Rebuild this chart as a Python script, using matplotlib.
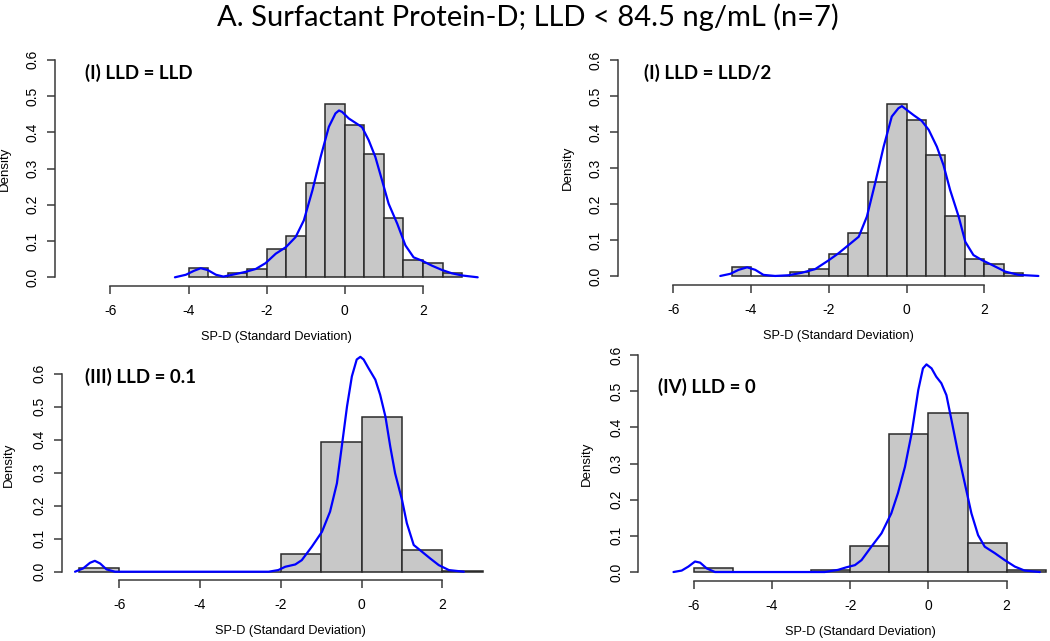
import matplotlib
matplotlib.use("Agg")
import matplotlib.pyplot as plt
import numpy as np

# ---------------- data ----------------
title = "A. Surfactant Protein-D; LLD < 84.5 ng/mL (n=7)"
panel_labels = ["(I) LLD = LLD", "(I) LLD = LLD/2", "(III) LLD = 0.1", "(IV) LLD = 0"]
xlabel = "SP-D (Standard Deviation)"
ylabel = "Density"
x_ticks = [-6, -4, -2, 0, 2]
y_ticks = [0.0, 0.1, 0.2, 0.3, 0.4, 0.5, 0.6]
y_tick_labels = ["0.0", "0.1", "0.2", "0.3", "0.4", "0.5", "0.6"]

# Panel I histogram (breaks -4..3 by 0.5)
p1_breaks = [-4.0, -3.5, -3.0, -2.5, -2.0, -1.5, -1.0, -0.5, 0.0, 0.5, 1.0, 1.5, 2.0, 2.5, 3.0]
p1_density = [0.027, 0.0, 0.012, 0.023, 0.077, 0.114, 0.259, 0.477, 0.419, 0.339, 0.163, 0.049, 0.039, 0.012]
p1_curve_x = [-4.35, -4.07, -3.86, -3.69, -3.51, -3.30, -3.11, -2.88, -2.54, -2.28, -2.03, -1.77, -1.51,
              -1.26, -1.05, -0.83, -0.62, -0.41, -0.24, -0.15, -0.07, 0.10, 0.27, 0.44, 0.61, 0.78, 0.95,
              1.12, 1.34, 1.55, 1.76, 1.97, 2.23, 2.49, 2.74, 3.00, 3.40]
p1_curve_y = [0.000, 0.007, 0.018, 0.025, 0.020, 0.007, 0.002, 0.007, 0.015, 0.023, 0.039, 0.065, 0.083,
              0.111, 0.157, 0.240, 0.332, 0.415, 0.452, 0.460, 0.456, 0.438, 0.426, 0.414, 0.378, 0.332, 0.268,
              0.203, 0.148, 0.088, 0.055, 0.046, 0.032, 0.020, 0.011, 0.005, 0.000]

# Panel I (LLD/2) histogram (breaks -4.5..3 by 0.5)
p2_breaks = [-4.5, -4.0, -3.5, -3.0, -2.5, -2.0, -1.5, -1.0, -0.5, 0.0, 0.5, 1.0, 1.5, 2.0, 2.5, 3.0]
p2_density = [0.026, 0.0, 0.0, 0.012, 0.019, 0.062, 0.119, 0.261, 0.479, 0.432, 0.337, 0.168, 0.046, 0.034, 0.007]
p2_curve_x = [-4.79, -4.53, -4.32, -4.10, -3.89, -3.68, -3.38, -3.03, -2.69, -2.35, -2.01, -1.75, -1.49,
              -1.23, -1.02, -0.81, -0.59, -0.38, -0.21, -0.12, 0.01, 0.18, 0.39, 0.57, 0.78, 0.95, 1.12,
              1.34, 1.51, 1.72, 1.94, 2.19, 2.54, 2.88, 3.39]
p2_curve_y = [0.000, 0.006, 0.017, 0.024, 0.017, 0.003, 0.000, 0.002, 0.009, 0.019, 0.043, 0.063, 0.086,
              0.109, 0.165, 0.257, 0.359, 0.443, 0.466, 0.472, 0.461, 0.447, 0.431, 0.406, 0.359, 0.308, 0.239,
              0.165, 0.095, 0.058, 0.044, 0.031, 0.012, 0.003, 0.000]

# Panel III histogram (breaks -7..3 by 1)
p3_breaks = [-7, -6, -5, -4, -3, -2, -1, 0, 1, 2, 3]
p3_density = [0.012, 0.0, 0.0, 0.0, 0.0, 0.055, 0.393, 0.468, 0.067, 0.002]
p3_curve_x = [-7.09, -6.89, -6.72, -6.60, -6.47, -6.31, -6.10, -3.96, -2.30, -2.06, -1.89, -1.64, -1.48,
              -1.23, -0.98, -0.78, -0.61, -0.49, -0.36, -0.24, -0.12, -0.03, 0.05, 0.17, 0.34, 0.46, 0.59,
              0.71, 0.83, 1.00, 1.12, 1.29, 1.49, 1.70, 1.91, 2.16, 2.53]
p3_curve_y = [0.000, 0.010, 0.027, 0.033, 0.025, 0.007, 0.000, 0.000, 0.000, 0.005, 0.015, 0.022, 0.035,
              0.076, 0.121, 0.182, 0.268, 0.379, 0.501, 0.592, 0.643, 0.651, 0.643, 0.617, 0.582, 0.536, 0.470,
              0.379, 0.298, 0.218, 0.147, 0.081, 0.061, 0.040, 0.020, 0.005, 0.000]

# Panel IV histogram (breaks -6..3 by 1)
p4_breaks = [-6, -5, -4, -3, -2, -1, 0, 1, 2, 3]
p4_density = [0.012, 0.0, 0.0, 0.006, 0.072, 0.382, 0.439, 0.081, 0.006]
p4_curve_x = [-6.52, -6.31, -6.14, -5.97, -5.84, -5.67, -5.46, -2.65, -2.31, -2.10, -1.88, -1.71, -1.46,
              -1.20, -0.95, -0.78, -0.60, -0.43, -0.26, -0.14, -0.05, 0.08, 0.20, 0.33, 0.46, 0.59, 0.76,
              0.93, 1.10, 1.27, 1.44, 1.70, 1.95, 2.21, 2.46, 2.85]
p4_curve_y = [0.000, 0.004, 0.015, 0.029, 0.026, 0.010, 0.000, 0.000, 0.006, 0.013, 0.019, 0.033, 0.070,
              0.107, 0.162, 0.218, 0.291, 0.383, 0.503, 0.563, 0.574, 0.563, 0.540, 0.522, 0.489, 0.420, 0.328,
              0.245, 0.162, 0.102, 0.070, 0.052, 0.033, 0.015, 0.004, 0.000]

panels = [
    (p1_breaks, p1_density, p1_curve_x, p1_curve_y, 0.6),
    (p2_breaks, p2_density, p2_curve_x, p2_curve_y, 0.6),
    (p3_breaks, p3_density, p3_curve_x, p3_curve_y, 0.65),
    (p4_breaks, p4_density, p4_curve_x, p4_curve_y, 0.6),
]

# ---------------- layout (pixels) ----------------
W, H = 1050, 641
fig = plt.figure(figsize=(W / 100, H / 100), dpi=100)
fig.patch.set_facecolor("white")

# left, top, right, bottom in pixels (plot region)
rects = [
    (55, 51, 498, 286),
    (618, 51.4, 1059, 284.6),
    (61.7, 348.6, 520, 580.3),
    (638.3, 346.3, 1081.7, 580.7),
]
label_pos = [(85, 73), (644, 73), (85, 377), (658, 387)]
ylabel_x = [5, 568, 9, 587]

xlim = (-7.42, 3.92)
axis_col = "#3a3a3a"
tick_font = ["Liberation Sans", "DejaVu Sans"]

for i, ((brk, dens, cx, cy, ytop), (l, t, r, b)) in enumerate(zip(panels, rects)):
    ax = fig.add_axes([l / W, 1 - b / H, (r - l) / W, (b - t) / H])
    ax.set_xlim(*xlim)
    pad = 0.04 * ytop
    ax.set_ylim(-pad, ytop + pad)
    brk = np.asarray(brk)
    ax.bar(brk[:-1], dens, width=np.diff(brk), align="edge", color="#c8c8c8",
           edgecolor="#2a2a2a", linewidth=1.1, zorder=2)
    ax.plot(cx, cy, color="#0000ff", linewidth=1.6, zorder=3, solid_capstyle="round")

    for s in ["top", "right"]:
        ax.spines[s].set_visible(False)
    ax.spines["left"].set_bounds(0, 0.6)
    ax.spines["bottom"].set_bounds(-6, 2)
    for s in ["left", "bottom"]:
        ax.spines[s].set_color(axis_col)
        ax.spines[s].set_linewidth(1.1)
    ax.set_xticks(x_ticks)
    ax.set_xticklabels([str(v) for v in x_ticks], fontfamily=tick_font)
    ax.set_yticks(y_ticks)
    ax.set_yticklabels(y_tick_labels, rotation=90, va="center", fontfamily=tick_font)
    ax.tick_params(axis="both", direction="out", length=6, width=1.1, color=axis_col,
                   labelsize=10, labelcolor="black")
    ax.tick_params(axis="x", pad=7)
    ax.tick_params(axis="y", pad=5)
    ax.patch.set_visible(False)

    xl_center = (l + r) / 2
    xl_y = b + 51
    fig.text(xl_center / W, 1 - xl_y / H, xlabel, ha="center", va="center",
             fontsize=9.2, family=tick_font)
    fig.text(ylabel_x[i] / W, 1 - ((t + b) / 2) / H, ylabel, ha="center", va="center",
             rotation=90, fontsize=9.5, family=tick_font)

    lx, ly = label_pos[i]
    fig.text(lx / W, 1 - ly / H, panel_labels[i], ha="left", va="center",
             fontsize=13.5, fontweight="bold", family=["Lato", "DejaVu Sans"])

fig.text(528 / W, 1 - 17 / H, title, ha="center", va="center", fontsize=21,
         family=["Lato", "DejaVu Sans"])

fig.savefig("out.png", dpi=100, facecolor="white")
